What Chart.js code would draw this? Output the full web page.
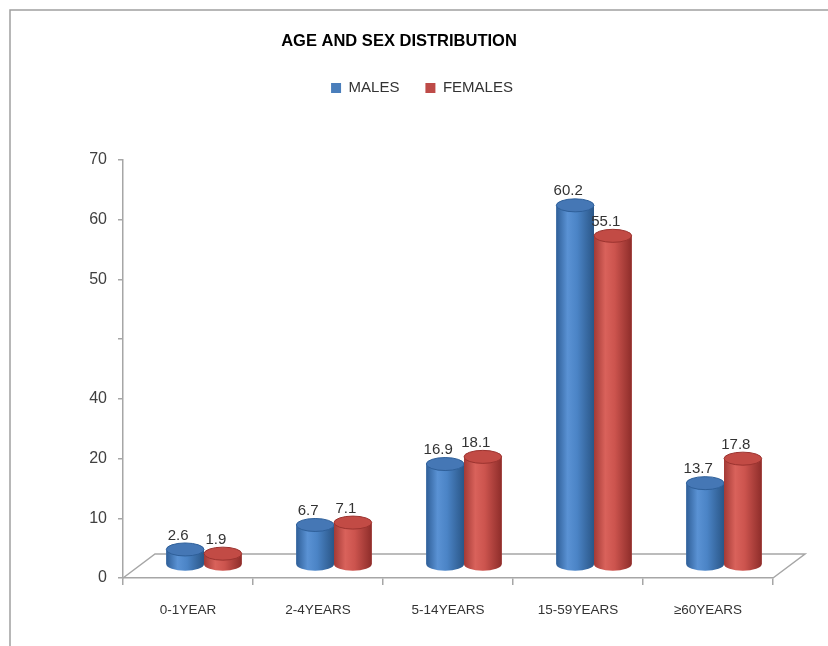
<!DOCTYPE html>
<html>
<head>
<meta charset="utf-8">
<title>Age and sex distribution</title>
<script src="https://cdn.jsdelivr.net/npm/chart.js@4.4.0/dist/chart.umd.min.js"></script>
<style>
  html, body { margin: 0; padding: 0; background: #fff; }
  #wrap { position: relative; width: 828px; height: 646px; }
</style>
</head>
<body>
<div id="wrap"><canvas id="chart"></canvas></div>
<script>
var categories = ['0-1YEAR', '2-4YEARS', '5-14YEARS', '15-59YEARS', '\u226560YEARS'];
var males = [2.6, 6.7, 16.9, 60.2, 13.7];
var females = [1.9, 7.1, 18.1, 55.1, 17.8];
// labels as printed on the original y axis, one per tick (0, 10, ... 70)
var yTickLabels = ['0', '10', '20', '40', '', '50', '60', '70'];

var NARROW = "'Liberation Sans Narrow', 'Liberation Sans', sans-serif";
var REGULAR = "'Liberation Sans', Arial, sans-serif";

// 3d look: floor depth and where the bars stand on it
var DEPTH_X = 32, DEPTH_Y = 24;
var BAR_DX = 16, BAR_DY = 13;
var CAP_RY = 6.5;

var looks = [
    { stops: ['#2F5F98', '#5A92D4', '#4B84C6', '#2A5687'], cap: '#4577B5', edge: '#2E5F99' },
    { stops: ['#A33A36', '#D9625B', '#CC544E', '#8E2D2A'], cap: '#C24B45', edge: '#9B332F' }
];

function drawCylinder(ctx, el, look) {
    var rx = el.width / 2;
    var left = el.x - rx, right = el.x + rx;
    var grad = ctx.createLinearGradient(left, 0, right, 0);
    grad.addColorStop(0, look.stops[0]);
    grad.addColorStop(0.3, look.stops[1]);
    grad.addColorStop(0.55, look.stops[2]);
    grad.addColorStop(1, look.stops[3]);

    ctx.beginPath();
    ctx.moveTo(left, el.y);
    ctx.lineTo(left, el.base);
    ctx.ellipse(el.x, el.base, rx, CAP_RY, 0, Math.PI, 0, true);
    ctx.lineTo(right, el.y);
    ctx.ellipse(el.x, el.y, rx, CAP_RY, 0, 0, Math.PI, false);
    ctx.closePath();
    ctx.fillStyle = grad;
    ctx.fill();

    ctx.beginPath();
    ctx.ellipse(el.x, el.y, rx, CAP_RY, 0, 0, Math.PI * 2);
    ctx.fillStyle = look.cap;
    ctx.fill();
    ctx.lineWidth = 1;
    ctx.strokeStyle = look.edge;
    ctx.stroke();
}

var cylinderPlugin = {
    id: 'cylinders',
    afterInit: function (chart) {
        var legend = chart.legend;
        var fit = legend.fit;
        legend.fit = function () {
            fit.call(this);
            this.height = 105.4;
        };
    },
    afterLayout: function (chart) {
        chart.titleBlock.left += 12.5;
        chart.titleBlock.right += 12.5;
        chart.legend.left += 35.5;
        chart.legend.right += 35.5;
    },
    beforeDraw: function (chart) {
        var ctx = chart.ctx;
        ctx.save();
        ctx.strokeStyle = '#a0a0a0';
        ctx.lineWidth = 1.5;
        ctx.beginPath();
        ctx.moveTo(10, chart.height);
        ctx.lineTo(10, 10);
        ctx.lineTo(chart.width, 10);
        ctx.stroke();
        ctx.restore();
    },
    beforeDatasetsDraw: function (chart) {
        var ctx = chart.ctx;
        var x = chart.scales.x, y = chart.scales.y;
        var y0 = y.getPixelForValue(0);
        ctx.save();
        ctx.strokeStyle = '#a6a6a6';
        ctx.lineWidth = 1.5;
        ctx.beginPath();
        ctx.moveTo(x.left, y0);
        ctx.lineTo(x.left + DEPTH_X, y0 - DEPTH_Y);
        ctx.lineTo(x.right + DEPTH_X, y0 - DEPTH_Y);
        ctx.lineTo(x.right, y0);
        ctx.stroke();
        ctx.restore();

        ctx.save();
        ctx.translate(BAR_DX, -BAR_DY);
    },
    afterDatasetsDraw: function (chart) {
        var ctx = chart.ctx;
        chart.data.datasets.forEach(function (ds, i) {
            chart.getDatasetMeta(i).data.forEach(function (el) {
                drawCylinder(ctx, el, looks[i]);
            });
        });
        ctx.fillStyle = '#333';
        ctx.font = '15px ' + REGULAR;
        ctx.textAlign = 'center';
        ctx.textBaseline = 'middle';
        chart.data.datasets.forEach(function (ds, i) {
            chart.getDatasetMeta(i).data.forEach(function (el, j) {
                ctx.fillText(String(ds.data[j]), el.x - 7, el.y - 14);
            });
        });
        ctx.restore();
    }
};

new Chart(document.getElementById('chart'), {
    type: 'bar',
    data: {
        labels: categories,
        datasets: [
            { label: 'MALES', data: males, backgroundColor: '#4A7EBB', borderWidth: 0, clip: false },
            { label: 'FEMALES', data: females, backgroundColor: '#BE4B48', borderWidth: 0, clip: false }
        ]
    },
    options: {
        responsive: true,
        maintainAspectRatio: false,
        animation: false,
        layout: { padding: { top: 0, left: 0, right: 55, bottom: 0 } },
        datasets: { bar: { categoryPercentage: 0.58, barPercentage: 1 } },
        plugins: {
            title: {
                display: true,
                text: 'AGE AND SEX DISTRIBUTION',
                color: '#000',
                font: { family: NARROW, size: 16.5, weight: 'bold', lineHeight: 1.2 },
                padding: { top: 32, bottom: 2.6 }
            },
            legend: {
                position: 'top',
                labels: {
                    boxWidth: 10,
                    boxHeight: 10,
                    padding: 26,
                    color: '#333',
                    font: { family: REGULAR, size: 15 }
                }
            },
            tooltip: { enabled: false }
        },
        scales: {
            x: {
                afterFit: function (scale) { scale.height = 68; },
                grid: { drawOnChartArea: false, tickLength: 7, color: '#a6a6a6', lineWidth: 1.5 },
                border: { color: '#a6a6a6', width: 1.5 },
                ticks: { color: '#333', padding: 17, font: { family: NARROW, size: 13.5 } }
            },
            y: {
                min: 0,
                max: 70,
                afterFit: function (scale) { scale.width = 123; },
                grid: { drawOnChartArea: false, tickLength: 5, color: '#a6a6a6', lineWidth: 1.5 },
                border: { color: '#a6a6a6', width: 1.5 },
                ticks: {
                    stepSize: 10,
                    color: '#404040',
                    padding: 11,
                    font: { family: REGULAR, size: 16 },
                    callback: function (value) { return yTickLabels[value / 10]; }
                }
            }
        }
    },
    plugins: [cylinderPlugin]
});
</script>
</body>
</html>
